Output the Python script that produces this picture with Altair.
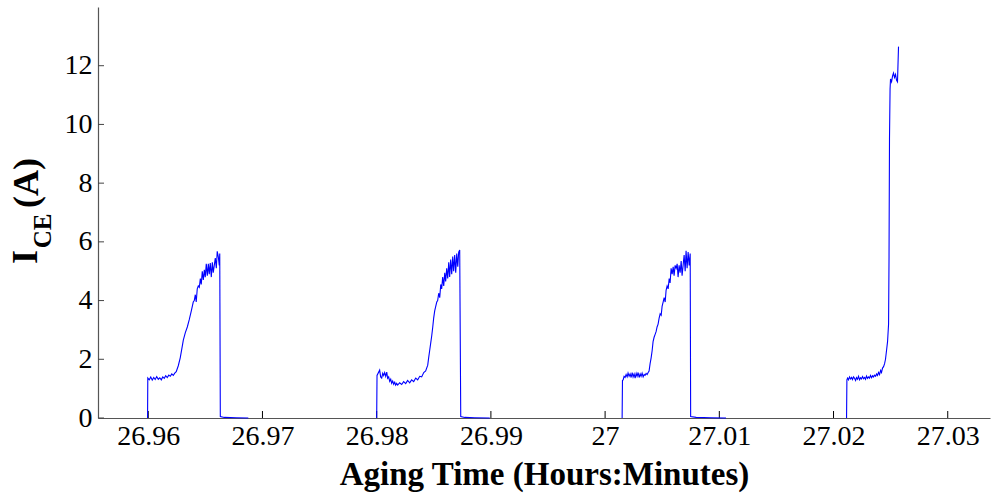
import altair as alt
import pandas as pd

# ---- data (time in hours, current in A) ----
t1 = [26.95994, 26.95996, 26.96009, 26.96022, 26.96035, 26.96048, 26.96061, 26.96074, 26.96088,
      26.96101, 26.96114, 26.96127, 26.96140, 26.96153, 26.96166, 26.96180, 26.96193, 26.96206,
      26.96219, 26.96232, 26.96245, 26.96263, 26.96280, 26.96298, 26.96307, 26.96324, 26.96342,
      26.96359, 26.96377, 26.96394, 26.96403, 26.96412, 26.96420, 26.96429, 26.96438, 26.96447,
      26.96456, 26.96464, 26.96473, 26.96482, 26.96491, 26.96499, 26.96508, 26.96517, 26.96526,
      26.96534, 26.96543, 26.96552, 26.96561, 26.96569, 26.96578, 26.96587, 26.96596, 26.96604,
      26.96613, 26.96622, 26.96626, 26.96631, 26.96666, 26.96771, 26.96876]
i1 = [0.00, 1.36, 1.30, 1.40, 1.29, 1.38, 1.31, 1.41, 1.32, 1.37, 1.30, 1.40, 1.35, 1.44, 1.38,
      1.46, 1.42, 1.50, 1.45, 1.53, 1.58, 1.78, 2.05, 2.45, 2.65, 2.90, 3.10, 3.35, 3.65, 3.95,
      4.00, 4.20, 3.95, 4.40, 4.50, 4.45, 4.75, 4.55, 5.00, 4.70, 5.05, 4.80, 5.25, 4.85, 5.25,
      4.90, 5.28, 4.80, 5.30, 4.95, 5.20, 5.45, 5.10, 5.68, 5.50, 5.20, 5.60, 0.05, 0.02, 0.01, 0.00]

t2 = [26.98000, 26.98003, 26.98026, 26.98035, 26.98044, 26.98053, 26.98061, 26.98070, 26.98079,
      26.98088, 26.98096, 26.98105, 26.98114, 26.98123, 26.98131, 26.98140, 26.98149, 26.98158,
      26.98166, 26.98175, 26.98184, 26.98201, 26.98219, 26.98236, 26.98254, 26.98271, 26.98289,
      26.98306, 26.98324, 26.98342, 26.98359, 26.98377, 26.98394, 26.98412, 26.98429, 26.98447,
      26.98455, 26.98464, 26.98473, 26.98482, 26.98491, 26.98499, 26.98508, 26.98517, 26.98526,
      26.98534, 26.98543, 26.98552, 26.98561, 26.98569, 26.98578, 26.98587, 26.98596, 26.98604,
      26.98613, 26.98622, 26.98631, 26.98639, 26.98648, 26.98657, 26.98666, 26.98674, 26.98683,
      26.98692, 26.98701, 26.98710, 26.98718, 26.98727, 26.98736, 26.98771, 26.98859, 26.98990]
i2 = [0.00, 1.45, 1.63, 1.40, 1.36, 1.52, 1.45, 1.55, 1.42, 1.56, 1.35, 1.40, 1.25, 1.32, 1.18,
      1.26, 1.15, 1.22, 1.12, 1.18, 1.12, 1.20, 1.14, 1.24, 1.17, 1.28, 1.20, 1.30, 1.24, 1.36,
      1.30, 1.42, 1.40, 1.55, 1.60, 1.80, 2.05, 2.30, 2.55, 2.80, 3.10, 3.40, 3.65, 3.80, 3.95,
      4.00, 4.25, 4.10, 4.55, 4.40, 4.80, 4.50, 4.95, 4.65, 5.10, 4.75, 5.30, 4.80, 5.40, 4.90,
      5.50, 5.00, 5.55, 4.95, 5.60, 5.15, 5.65, 5.72, 0.05, 0.02, 0.01, 0.00]

t3 = [27.00149, 27.00152, 27.00158, 27.00166, 27.00175, 27.00184, 27.00193, 27.00201, 27.00210,
      27.00219, 27.00228, 27.00237, 27.00245, 27.00254, 27.00263, 27.00272, 27.00280, 27.00289,
      27.00298, 27.00307, 27.00315, 27.00324, 27.00333, 27.00342, 27.00350, 27.00359, 27.00368,
      27.00377, 27.00385, 27.00394, 27.00403, 27.00412, 27.00420, 27.00429, 27.00438, 27.00447,
      27.00455, 27.00464, 27.00473, 27.00482, 27.00491, 27.00499, 27.00508, 27.00517, 27.00526,
      27.00534, 27.00543, 27.00552, 27.00561, 27.00569, 27.00578, 27.00587, 27.00596, 27.00604,
      27.00613, 27.00622, 27.00631, 27.00639, 27.00648, 27.00657, 27.00666, 27.00674, 27.00683,
      27.00692, 27.00701, 27.00709, 27.00718, 27.00727, 27.00736, 27.00745, 27.00749, 27.00797,
      27.00928, 27.01059]
i3 = [0.00, 1.28, 1.30, 1.42, 1.38, 1.48, 1.40, 1.53, 1.42, 1.50, 1.38, 1.55, 1.40, 1.50, 1.36,
      1.52, 1.42, 1.55, 1.38, 1.50, 1.42, 1.53, 1.40, 1.48, 1.45, 1.52, 1.48, 1.55, 1.60, 1.85,
      2.05, 2.30, 2.60, 2.75, 2.85, 2.95, 3.10, 3.20, 3.40, 3.55, 3.50, 3.80, 3.95, 4.10, 3.95,
      4.35, 4.50, 4.40, 4.75, 4.60, 5.10, 4.90, 5.15, 4.85, 5.20, 5.10, 5.25, 4.80, 5.20, 4.95,
      5.35, 4.85, 5.20, 5.55, 5.00, 5.70, 5.10, 5.65, 5.20, 5.60, 0.05, 0.02, 0.01, 0.00]

t4 = [27.02114, 27.02117, 27.02123, 27.02131, 27.02140, 27.02149, 27.02158, 27.02166, 27.02175,
      27.02184, 27.02193, 27.02201, 27.02210, 27.02219, 27.02228, 27.02237, 27.02245, 27.02254,
      27.02263, 27.02272, 27.02280, 27.02289, 27.02298, 27.02307, 27.02315, 27.02324, 27.02333,
      27.02342, 27.02350, 27.02359, 27.02368, 27.02377, 27.02385, 27.02394, 27.02403, 27.02412,
      27.02420, 27.02429, 27.02438, 27.02447, 27.02455, 27.02464, 27.02473, 27.02482, 27.02486,
      27.02490, 27.02495, 27.02499, 27.02508, 27.02517, 27.02525, 27.02534, 27.02543, 27.02552,
      27.02560, 27.02569]
i4 = [0.00, 1.30, 1.36, 1.30, 1.40, 1.33, 1.38, 1.31, 1.40, 1.35, 1.28, 1.38, 1.32, 1.42, 1.30,
      1.37, 1.33, 1.41, 1.34, 1.38, 1.32, 1.43, 1.35, 1.40, 1.36, 1.45, 1.37, 1.44, 1.40, 1.46,
      1.42, 1.50, 1.45, 1.55, 1.48, 1.62, 1.55, 1.70, 1.75, 1.85, 2.00, 2.30, 2.60, 3.20, 5.50,
      9.50, 11.20, 11.55, 11.45, 11.65, 11.75, 11.60, 11.70, 11.50, 11.45, 12.65]

x_ticks = [26.96, 26.97, 26.98, 26.99, 27.00, 27.01, 27.02, 27.03]
y_ticks = [0, 2, 4, 6, 8, 10, 12]

# ---- table ----
rows = []
for k, (ts, cs) in enumerate([(t1, i1), (t2, i2), (t3, i3), (t4, i4)]):
    for order, (t, c) in enumerate(zip(ts, cs)):
        rows.append({"t": t, "i": c, "pulse": k, "order": order})
df = pd.DataFrame(rows)

W, H = 892, 411
FONT = "Liberation Serif"

xscale = alt.Scale(domain=[26.9556, 27.0337], nice=False, zero=False)
yscale = alt.Scale(domain=[0, 14], nice=False)

line = alt.Chart(df).mark_line(color="#0000ff", strokeWidth=1.1).encode(
    x=alt.X("t:Q", scale=xscale,
            axis=alt.Axis(values=x_ticks, format=".2~f", ticks=False, grid=False,
                          domainColor="#555555", domainWidth=1.2,
                          labelFont=FONT, labelFontSize=28, labelColor="#000000",
                          labelPadding=4, labelFlush=False,
                          title="Aging Time (Hours:Minutes)", titleFont=FONT,
                          titleFontSize=33, titleFontWeight="bold", titleColor="#000000",
                          titlePadding=8)),
    y=alt.Y("i:Q", scale=yscale,
            axis=alt.Axis(values=y_ticks, ticks=False, grid=False,
                          domainColor="#555555", domainWidth=1.2,
                          labelFont=FONT, labelFontSize=28, labelColor="#000000",
                          labelPadding=6, title=None)),
    detail="pulse:N",
    order="order:Q",
)

xt = pd.DataFrame({"t": x_ticks})
xtick_rules = alt.Chart(xt).mark_rule(color="#000000", strokeWidth=1).encode(
    x=alt.X("t:Q", scale=xscale),
    y=alt.value(H),
    y2=alt.value(H - 7),
)

yt = pd.DataFrame({"i": y_ticks})
ytick_rules = alt.Chart(yt).mark_rule(color="#444444", strokeWidth=1).encode(
    y=alt.Y("i:Q", scale=yscale),
    x=alt.value(0),
    x2=alt.value(6),
)

title_df = pd.DataFrame({"k": [0]})
base_title = alt.Chart(title_df)
t_I = base_title.mark_text(text="I", font=FONT, fontSize=36, fontWeight="bold", angle=270,
                           align="center", baseline="middle", color="#000000").encode(
    x=alt.value(-72), y=alt.value(250))
t_CE = base_title.mark_text(text="CE", font=FONT, fontSize=25, fontWeight="bold", angle=270,
                            align="center", baseline="middle", color="#000000").encode(
    x=alt.value(-55), y=alt.value(224))
t_A = base_title.mark_text(text="(A)", font=FONT, fontSize=36, fontWeight="bold", angle=270,
                           align="center", baseline="middle", color="#000000").encode(
    x=alt.value(-71), y=alt.value(176))

chart = alt.layer(ytick_rules, xtick_rules, line, t_I, t_CE, t_A).properties(
    width=W, height=H,
    autosize=alt.AutoSizeParams(type="none"),
    padding={"left": 98, "top": 7, "right": 2, "bottom": 79},
    background="#ffffff",
).configure_view(stroke=None)

chart.save("out.html", embed_options={"renderer": "svg", "actions": False})
